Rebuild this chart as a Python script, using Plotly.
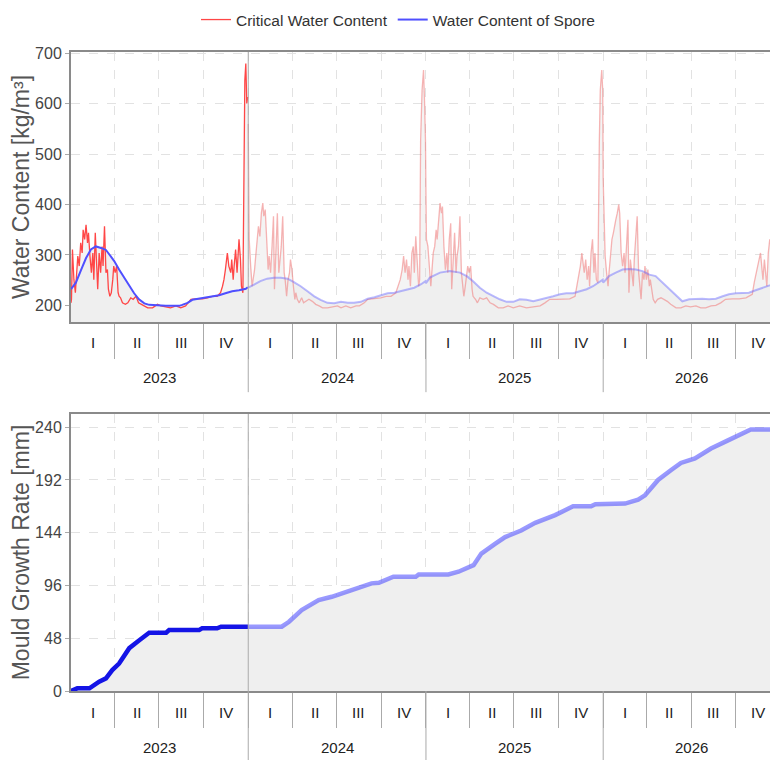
import pandas as pd
import plotly.graph_objects as go

# ---------------- data (day-of-year, value) ----------------
crit_2023 = [(0,205),(1,212),(3,311),(6,251),(9,225),(12,265),(14,298),(17,278),(20,324),(23,304),(25,350),(28,331),
             (31,360),(34,324),(36,344),(39,298),(42,265),(45,304),(47,251),(50,344),(53,291),(55,232),(58,304),(61,265),
             (64,317),(66,278),(69,357),(72,265),(75,271),(77,232),(80,218),(83,225),(86,251),(88,278),(91,265),(94,278),
             (97,225),(99,218),(102,215),(106,205),(112,202),(117,205),(123,215),(128,212),(134,218),(139,205),(145,202),
             (151,199),(158,195),(168,195),(178,202),(185,199),(195,197),(205,195),(216,199),(226,195),(236,199),(247,212),
             (257,213),(271,213),(281,215),(291,218),(301,218),(308,225),(312,238),(315,251),(318,271),(322,304),(325,278),
             (329,265),(331,291),(334,251),(336,278),(339,311),(342,265),(346,331),(349,291),(351,238),(354,225),(356,522),
             (358,647),(360,680),(362,601),(364,614)]
spore_2023 = [(0,232),(10,245),(21,271),(31,294),(41,311),(51,317),(62,314),(72,310),(79,301),(89,288),(99,271),
              (110,255),(120,238),(130,224),(140,212),(151,204),(161,201),(171,200),(182,199),(195,199),(209,199),
              (223,199),(229,201),(240,205),(250,211),(264,213),(277,215),(291,217),(305,220),(318,224),(332,228),
              (346,230),(360,233),(364,236)]

crit_2024 = [(0,560),(2,331),(5,278),(8,238),(10,251),(13,271),(16,304),(19,331),(21,357),(24,337),(27,383),(30,403),
             (32,377),(35,390),(38,331),(41,271),(43,298),(46,265),(49,317),(52,377),(54,232),(57,304),(60,383),(63,265),
             (65,291),(68,317),(71,377),(74,265),(76,251),(79,218),(82,251),(85,265),(87,291),(90,271),(93,238),(96,212),
             (98,225),(101,212),(105,205),(110,215),(114,205),(119,208),(125,212),(132,208),(139,202),(146,199),(153,195),
             (163,195),(174,197),(184,199),(191,195),(201,199),(211,195),(222,199),(229,199),(239,205),(246,212),(253,213),
             (263,213),(273,215),(284,218),(294,218),(304,225),(309,238),(313,251),(317,271),(320,298),(323,265),(326,291),
             (329,251),(331,278),(334,238),(337,304),(340,317),(342,265),(345,337),(348,291),(351,238),(353,251),(355,528),
             (358,627),(361,667),(363,607),(365,528)]
spore_2024 = [(0,235),(12,242),(25,248),(39,253),(53,255),(67,255),(81,253),(94,246),(108,238),(122,228),(136,218),
              (149,211),(163,205),(177,204),(191,207),(205,205),(218,205),(232,207),(246,213),(260,216),(273,220),
              (287,224),(301,225),(315,228),(329,232),(342,235),(356,242),(365,248)]

crit_2025 = [(0,420),(1,331),(4,317),(7,265),(10,238),(12,265),(15,304),(18,317),(21,350),(23,331),(26,377),(29,403),
             (32,383),(34,396),(37,317),(40,271),(43,304),(45,265),(48,331),(51,363),(53,232),(56,304),(59,344),(62,265),
             (64,298),(67,317),(70,377),(73,265),(75,238),(78,218),(81,238),(84,265),(86,278),(89,265),(92,278),(95,232),
             (97,218),(102,212),(106,205),(111,215),(118,212),(125,215),(132,205),(139,202),(149,195),(159,195),(169,199),
             (180,195),(193,199),(207,195),(221,197),(235,199),(245,205),(255,212),(269,212),(283,213),(296,213),(307,218),
             (311,238),(316,265),(318,278),(321,304),(324,278),(326,265),(329,291),(332,251),(335,278),(337,238),(340,304),
             (343,331),(346,265),(348,304),(351,251),(354,245),(357,522),(359,627),(362,667),(364,627)]
spore_2025 = [(0,244),(8,255),(29,265),(49,268),(70,265),(84,258),(97,248),(111,235),(125,225),(139,218),(152,212),
              (166,207),(180,207),(193,212),(207,211),(221,208),(235,211),(248,215),(262,218),(276,222),(289,224),
              (303,224),(317,228),(331,232),(344,238),(358,248),(364,251)]

crit_2026 = [(0,450),(2,337),(4,298),(7,265),(10,238),(12,265),(15,304),(18,331),(21,344),(23,357),(26,370),(29,383),
             (32,400),(34,383),(37,304),(40,278),(43,304),(45,265),(48,317),(51,370),(53,225),(56,291),(59,265),(62,238),
             (64,291),(67,331),(70,377),(73,265),(75,238),(78,212),(81,265),(84,251),(86,278),(89,251),(92,271),(95,238),
             (97,251),(100,225),(103,212),(107,205),(112,212),(119,215),(126,212),(132,208),(139,202),(150,195),(160,195),
             (170,199),(180,197),(191,199),(201,195),(211,195),(222,199),(232,200),(242,205),(252,212),(266,213),(280,213),
             (294,215),(300,218),(307,222),(311,245),(316,265),(318,278),(321,291),(324,304),(326,278),(329,251),(332,291),
             (335,265),(337,238),(340,304),(343,331),(346,317),(348,265),(351,251),(354,238),(357,528),(359,535)]
spore_2026 = [(0,245),(12,258),(26,265),(40,271),(53,272),(67,271),(81,268),(95,261),(108,258),(122,245),(136,232),
              (150,220),(163,208),(177,212),(191,213),(204,213),(218,212),(232,213),(246,218),(259,222),(273,224),
              (287,225),(300,225),(314,230),(328,235),(342,239),(359,245)]

# mould growth: (days since 2023-01-01, mm)
growth = [(0,0),(13,2.4),(38,2.4),(58,8.5),(72,11.5),(85,19),(99,25),(120,39),(140,46),(161,53),(196,53),(202,55.5),
          (264,55.5),(270,57),(301,57),(309,58.5),(365,58.5),(434,58.5),(449,63),(475,73.6),(510,82.7),(537,85.7),
          (578,91.8),(619,97.9),(634,98.5),(664,104),(710,104),(716,106),(777,106),(798,108.5),(829,114.5),(845,125),
          (874,134),(894,140),(927,146),(956,153),(997,160),(1034,168),(1071,168),(1080,170),(1141,170.5),(1153,172),
          (1168,174),(1182,178),(1209,192),(1236,201),(1256,207.5),(1285,211.5),(1318,220.6),(1353,228),(1388,235.7),
          (1400,238),(1456,238)]

years = [2023, 2024, 2025, 2026]
quarter_labels = ["I", "II", "III", "IV"]
wc_ticks = [200, 300, 400, 500, 600, 700]
mg_ticks = [0, 48, 96, 144, 192, 240]

# ---------------- helpers ----------------
def to_xy(pairs, year):
    base = pd.Timestamp(f"{year}-01-01")
    return [base + pd.Timedelta(days=d) for d, _ in pairs], [v for _, v in pairs]

crit = {2023: crit_2023, 2024: crit_2024, 2025: crit_2025, 2026: crit_2026}
spore = {2023: spore_2023, 2024: spore_2024, 2025: spore_2025, 2026: spore_2026}

def series(dct, yrs):
    xs, ys = [], []
    for y in yrs:
        a, b = to_xy(dct[y], y)
        xs += a
        ys += b
    return xs, ys

RED = "#ff4646"
BLUE = "#4f4fff"
RED_F = "rgba(240,120,120,0.55)"
BLUE_F = "rgba(90,90,255,0.42)"
FONT = "Liberation Sans, Arial, sans-serif"

fig = go.Figure()

# fills
cx_all, cy_all = series(crit, years)
sx_all, sy_all = series(spore, years)
fig.add_trace(go.Scatter(x=cx_all, y=cy_all, fill="tozeroy", fillcolor="rgba(215,215,215,0.28)",
                         line=dict(width=0), mode="lines", showlegend=False, hoverinfo="skip", xaxis="x", yaxis="y"))
fig.add_trace(go.Scatter(x=sx_all, y=sy_all, fill="tozeroy", fillcolor="#efefef",
                         line=dict(width=0), mode="lines", showlegend=False, hoverinfo="skip", xaxis="x", yaxis="y"))

# faded lines (2024+)
cx, cy = series(crit, years[1:])
fig.add_trace(go.Scatter(x=cx, y=cy, mode="lines", line=dict(color=RED_F, width=1.3), showlegend=False,
                         xaxis="x", yaxis="y"))
sx, sy = series(spore, years[1:])
fig.add_trace(go.Scatter(x=sx, y=sy, mode="lines", line=dict(color=BLUE_F, width=2), showlegend=False,
                         xaxis="x", yaxis="y"))
# bright lines (2023)
cx, cy = series(crit, years[:1])
fig.add_trace(go.Scatter(x=cx, y=cy, mode="lines", line=dict(color=RED, width=1.3),
                         name="Critical Water Content", xaxis="x", yaxis="y"))
sx, sy = series(spore, years[:1])
fig.add_trace(go.Scatter(x=sx, y=sy, mode="lines", line=dict(color=BLUE, width=2),
                         name="Water Content of Spore", xaxis="x", yaxis="y"))

# growth
gx = [pd.Timestamp("2023-01-01") + pd.Timedelta(days=d) for d, _ in growth]
gy = [v for _, v in growth]
fig.add_trace(go.Scatter(x=gx, y=gy, fill="tozeroy", fillcolor="#efefef", line=dict(width=0), mode="lines",
                         showlegend=False, hoverinfo="skip", xaxis="x2", yaxis="y2"))
split = pd.Timestamp("2024-01-01")
bx = [x for x in gx if x <= split]
by = gy[:len(bx)]
fx = [x for x in gx if x >= split]
fy = gy[len(gx) - len(fx):]
fig.add_trace(go.Scatter(x=fx, y=fy, mode="lines", line=dict(color="rgba(70,70,255,0.55)", width=4.5),
                         showlegend=False, xaxis="x2", yaxis="y2"))
fig.add_trace(go.Scatter(x=bx, y=by, mode="lines", line=dict(color="#1414e6", width=4.5),
                         showlegend=False, xaxis="x2", yaxis="y2"))

# ---------------- axes ----------------
qstarts = []
for y in years:
    for m in (1, 4, 7, 10):
        qstarts.append(pd.Timestamp(f"{y}-{m:02d}-01"))
qstarts.append(pd.Timestamp("2027-01-01"))
xticks = qstarts[1:-1]
xrange = ["2023-01-01", "2026-12-27"]

xcommon = dict(type="date", range=xrange, tickvals=xticks, showticklabels=False, ticks="outside",
               ticklen=35, tickcolor="#aaaaaa", tickwidth=1, showgrid=True, gridcolor="#e2e2e2",
               griddash="dash", showline=True, linecolor="#8a8a8a", linewidth=2, mirror=True, zeroline=False,
               automargin=False)
ycommon = dict(showgrid=True, gridcolor="#e2e2e2", griddash="dash", showline=True, linecolor="#8a8a8a",
               linewidth=2, ticks="outside", ticklen=4, tickcolor="#aaaaaa", zeroline=False, automargin=False,
               tickfont=dict(size=16, color="#444", family=FONT))

H_TOP0, H_TOP1 = 0.5775, 1.0
H_BOT0, H_BOT1 = 0.0, 0.4335

fig.update_layout(
    width=770, height=752,
    margin=dict(l=63, r=0, t=44, b=69, autoexpand=False),
    paper_bgcolor="white", plot_bgcolor="white",
    font=dict(family=FONT, color="#333"),
    xaxis=dict(xcommon, anchor="y", domain=[0, 1]),
    xaxis2=dict(xcommon, anchor="y2", domain=[0, 1], matches="x"),
    yaxis=dict(ycommon, anchor="x", domain=[H_TOP0, H_TOP1], range=[167, 703], tickvals=wc_ticks,
               title=dict(text="Water Content [kg/m³]", font=dict(size=23, color="#555", family=FONT), standoff=3)),
    yaxis2=dict(ycommon, anchor="x2", domain=[H_BOT0, H_BOT1], range=[0, 252], tickvals=mg_ticks,
                title=dict(text="Mould Growth Rate [mm]", font=dict(size=23, color="#555", family=FONT), standoff=3)),
    legend=dict(orientation="h", x=0.4625, xanchor="center", y=1.0235, yanchor="bottom",
                font=dict(size=15.5, color="#333", family=FONT), itemwidth=30, tracegroupgap=0),
    showlegend=True,
)

# ---------------- category labels & separators ----------------
shapes = []
annotations = []
for xa, ya in (("x", "y domain"), ("x2", "y2 domain")):
    for i, y in enumerate(years):
        ys = pd.Timestamp(f"{y}-01-01")
        ye = pd.Timestamp(f"{y + 1}-01-01")
        if y > 2023:
            shapes.append(dict(type="line", xref=xa, yref=ya, x0=ys, x1=ys,
                               y0=1 if y == 2024 else 0, y1=-0.26,
                               line=dict(color="#aaaaaa", width=1)))
        annotations.append(dict(x=ys + (ye - ys) / 2, y=0, xref=xa, yref=ya, yanchor="middle", yshift=-56,
                                text=str(y), showarrow=False, font=dict(size=15, color="#222", family=FONT)))
        for q in range(4):
            a = qstarts[i * 4 + q]
            b = qstarts[i * 4 + q + 1]
            annotations.append(dict(x=a + (b - a) / 2, y=0, xref=xa, yref=ya, yanchor="middle", yshift=-21,
                                    text=quarter_labels[q], showarrow=False,
                                    font=dict(size=15, color="#222", family=FONT)))
fig.update_layout(shapes=shapes, annotations=annotations)

fig.write_html("out.html")
